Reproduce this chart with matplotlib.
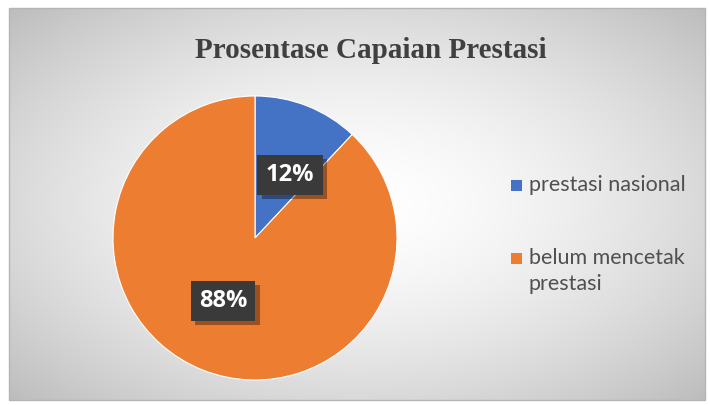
import numpy as np
import matplotlib
matplotlib.use("Agg")
import matplotlib.pyplot as plt
from matplotlib.patches import Rectangle
import matplotlib.patheffects as pe

title = "Prosentase Capaian Prestasi"
categories = ["prestasi nasional", "belum mencetak\nprestasi"]
values = [12, 88]
labels = ["12%", "88%"]
colors = ["#4472C4", "#ED7D31"]

W, H = 710, 405
fig = plt.figure(figsize=(W / 100, H / 100), dpi=100)
fig.patch.set_facecolor("white")

# background panel with radial gradient
bg = fig.add_axes([0, 0, 1, 1])
bg.set_xlim(0, W)
bg.set_ylim(H, 0)
bg.axis("off")
x0, y0, x1, y1 = 9, 8, 705, 400
xs = np.linspace(-1, 1, 400)
ys = np.linspace(-1, 1, 240)
X, Y = np.meshgrid(xs, ys)
R = np.sqrt(X ** 2 + Y ** 2) / np.sqrt(2)
val = 1.0 - 0.26 * R ** 1.6
img = np.dstack([val, val, val])
bg.imshow(img, extent=(x0, x1, y1, y0), aspect="auto", interpolation="bilinear", zorder=0)
bg.add_patch(Rectangle((x0, y0), x1 - x0, y1 - y0, fill=False, ec="#b5b5b5", lw=1.0, zorder=1))

bg.text(371, 50, title, ha="center", va="center", fontsize=21, fontweight="bold",
        family="Liberation Serif", color="#404040")

# pie
cx, cy, r = 255, 238, 142
pax = fig.add_axes([(cx - r) / W, 1 - (cy + r) / H, 2 * r / W, 2 * r / H])
wedges, _ = pax.pie(values, colors=colors, startangle=90, counterclock=False,
                    wedgeprops=dict(edgecolor="white", linewidth=0.8))
pax.set_aspect("auto")
pax.set_xlim(-1, 1)
pax.set_ylim(-1, 1)
pax.axis("off")

# overlay for labels
ov = fig.add_axes([0, 0, 1, 1])
ov.set_xlim(0, W)
ov.set_ylim(H, 0)
ov.axis("off")
ov.patch.set_alpha(0)

label_pos = [(290, 175), (223, 301)]
for (lx, ly), lab in zip(label_pos, labels):
    ov.text(lx, ly, lab, ha="center", va="center", fontsize=17, fontweight="bold",
            family="Open Sans", color="white", zorder=5,
            bbox=dict(boxstyle="square,pad=0.35", fc="#3a3a3a", ec="none",
                      path_effects=[pe.withSimplePatchShadow(offset=(3, -3), shadow_rgbFace="#000000", alpha=0.35)]))

# legend
leg_y = [186, 259]
for y, c, cat in zip(leg_y, colors, categories):
    ov.add_patch(Rectangle((511, y - 6), 11, 11, fc=c, ec="none", zorder=3))
    ov.text(529, y - 11, cat, ha="left", va="top", fontsize=15.5, family="Lato",
            color="#505050", linespacing=1.35, zorder=3)

fig.savefig("out.png", dpi=100)
